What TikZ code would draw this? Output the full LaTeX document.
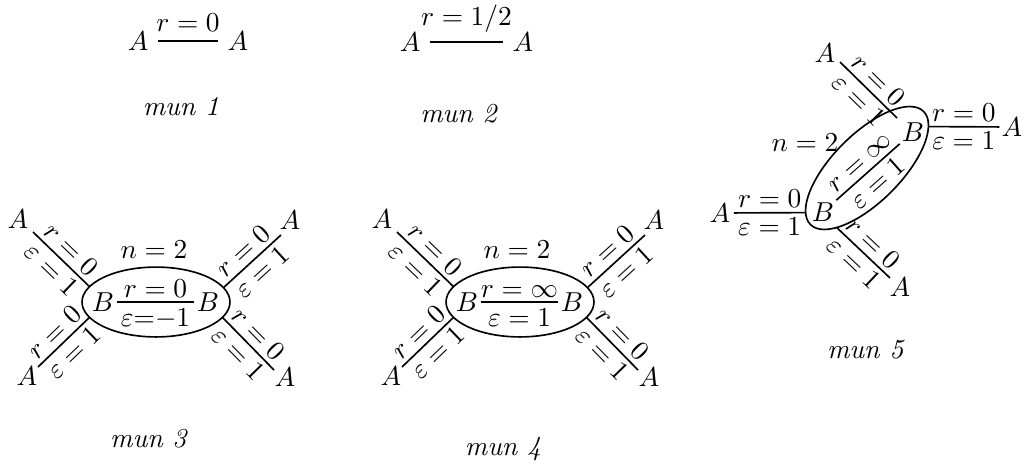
\documentclass[tikz,border=0pt]{standalone}
\usetikzlibrary{shapes.geometric}
\begin{document}
\begin{tikzpicture}[x=0.365pt,y=-0.365pt,
  every node/.style={font=\fontsize{10}{12}\selectfont},
  ln/.style={line width=0.6pt},
  labup/.style={above, sloped, inner sep=1.6pt},
  labdn/.style={below, sloped, inner sep=1.6pt},
  vtx/.style={inner sep=0.7pt},
  oval/.style={draw, ellipse, line width=0.6pt, inner sep=0pt, outer sep=0pt, minimum width=54pt, minimum height=25.5pt},
  capt/.style={anchor=base}]
\useasboundingbox (0,0) rectangle (1033,472);

% ---------- mun 1 ----------
\node[anchor=east] (m1a) at (158,41) {$A$};
\node[anchor=west] (m1b) at (218,41) {$A$};
\draw[ln] (m1a) -- node[above]{$r=0$} (m1b);
\node[capt] (m1c) at (181,115) {\textit{mun 1}};

% ---------- mun 2 ----------
\node[anchor=east] (m2a) at (430,42) {$A$};
\node[anchor=west] (m2b) at (503,42) {$A$};
\draw[ln] (m2a) -- node[above]{$r=1/2$} (m2b);
\node[capt] (m2c) at (459,122) {\textit{mun 2}};

% ---------- mun 3 ----------
\node[oval] (E3) at (156,302) {};
\node[vtx] (B3a) at (103,302) {$B$};
\node[vtx] (B3b) at (208,302) {$B$};
\draw[ln] (B3a) -- node[above,inner sep=1.5pt]{$r=0$} node[below,inner sep=2.2pt]{${\varepsilon}{=}{-}1$} (B3b);
\node (n3) at (154,250) {$n=2$};
\coordinate (c3ul) at (33,232);
\coordinate (c3ll) at (38,367);
\coordinate (c3ur) at (281,235);
\coordinate (c3lr) at (274,370);
\draw[ln] (c3ul) -- node[labup]{$r=0$} node[labdn]{$\varepsilon=1$} (E3.167);
\draw[ln] (c3ll) -- node[labup]{$r=0$} node[labdn]{$\varepsilon=1$} (E3.193);
\draw[ln] (E3.12) -- node[labup]{$r=0$} node[labdn]{$\varepsilon=1$} (c3ur);
\draw[ln] (E3.-13) -- node[labup]{$r=0$} node[labdn]{$\varepsilon=1$} (c3lr);
\node (A3ul) at (18,219) {$A$};
\node (A3ll) at (27,376) {$A$};
\node (A3ur) at (290,220) {$A$};
\node (A3lr) at (285,377) {$A$};
\node[capt] (m3c) at (149,447) {\textit{mun 3}};

% ---------- mun 4 ----------
\node[oval] (E4) at (520,302) {};
\node[vtx] (B4a) at (467,302) {$B$};
\node[vtx] (B4b) at (572,302) {$B$};
\draw[ln] (B4a) -- node[above,inner sep=1.5pt]{$r=\infty$} node[below,inner sep=2.2pt]{$\varepsilon=1$} (B4b);
\node (n4) at (517,250) {$n=2$};
\coordinate (c4ul) at (397,232);
\coordinate (c4ll) at (402,367);
\coordinate (c4ur) at (645,235);
\coordinate (c4lr) at (638,370);
\draw[ln] (c4ul) -- node[labup]{$r=0$} node[labdn]{$\varepsilon=1$} (E4.167);
\draw[ln] (c4ll) -- node[labup]{$r=0$} node[labdn]{$\varepsilon=1$} (E4.193);
\draw[ln] (E4.12) -- node[labup]{$r=0$} node[labdn]{$\varepsilon=1$} (c4ur);
\draw[ln] (E4.-13) -- node[labup]{$r=0$} node[labdn]{$\varepsilon=1$} (c4lr);
\node (A4ul) at (382,219) {$A$};
\node (A4ll) at (391,376) {$A$};
\node (A4ur) at (654,220) {$A$};
\node (A4lr) at (649,377) {$A$};
\node[capt] (m4c) at (503,455) {\textit{mun 4}};

% ---------- mun 5 ----------
\node[oval, minimum width=58.4pt, minimum height=24.8pt, rotate=45] (E5) at (867,168) {};
\node[vtx] (B5a) at (823,212) {$B$};
\node[vtx] (B5b) at (913,132) {$B$};
\draw[ln] (B5a) -- node[labup]{$r=\infty$} node[labdn]{$\varepsilon=1$} (B5b);
\node (n5) at (805,143) {$n=2$};
\coordinate (c5ul) at (840,62);
\coordinate (c5ulin) at (897,118);
\draw[ln] (c5ul) -- node[labup]{$r=0$} node[labdn]{$\varepsilon=1$} (c5ulin);
\node[inner sep=0.7pt] (A5r) at (1012,127) {$A$};
\draw[ln] (E5.-11) -- node[above,inner sep=1.5pt]{$r=0$} node[below,inner sep=1.5pt]{$\varepsilon=1$} (A5r);
\node[inner sep=1.1pt] (A5l) at (720,213) {$A$};
\draw[ln] (A5l) -- node[above,inner sep=1.5pt]{$r=0$} node[below,inner sep=1.5pt]{$\varepsilon=1$} (E5.171);
\coordinate (c5lr) at (890,278);
\draw[ln] (E5.-162) -- node[labup]{$r=0$} node[labdn]{$\varepsilon=1$} (c5lr);
\node (A5ul) at (825,53) {$A$};
\node (A5lr) at (900,287) {$A$};
\node[capt] (m5c) at (866,358) {\textit{mun 5}};
\end{tikzpicture}
\end{document}
